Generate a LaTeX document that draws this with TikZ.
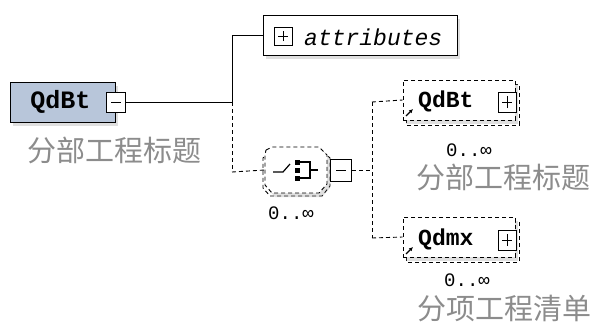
\documentclass[tikz,border=0pt]{standalone}
\usepackage{fontspec}
\newfontfamily\cjk{Noto Sans CJK SC}
\newfontfamily\mono{Liberation Mono}
\usetikzlibrary{shadows,shapes.misc,arrows.meta}
\definecolor{rootfill}{HTML}{B8C6DA}
\definecolor{cjkgray}{HTML}{8C8C8C}
\tikzset{
  elbox/.style={draw, line width=1pt, inner sep=0pt},
  pmbox/.style={draw, fill=white, line width=0.9pt, minimum width=19pt, minimum height=20pt, inner sep=0pt},
  dline/.style={line width=0.9pt, dash pattern=on 4pt off 3pt},
  sline/.style={line width=1pt},
  cjklabel/.style={font=\cjk\fontsize{29}{31}\selectfont, text=cjkgray, inner sep=0pt},
  card/.style={font=\mono\fontsize{19}{20}\selectfont, inner sep=0pt},
  shad/.style={drop shadow={shadow xshift=3pt, shadow yshift=-4pt, opacity=0.25, fill=gray}}
}
\begin{document}
\begin{tikzpicture}[x=1pt,y=-1pt]
\useasboundingbox (0,0) rectangle (593,327);
% root element
\node[elbox, fill=rootfill, minimum width=105pt, minimum height=40pt, shad,
      font=\mono\bfseries\fontsize{25}{26}\selectfont] (root) at (62.5,102) {\hspace*{-4pt}QdBt};
\node[pmbox] (rootm) at (116,102) {};
\draw[line width=0.9pt] ([xshift=-5pt]rootm.center) -- ([xshift=5pt]rootm.center);
\node[cjklabel] (rootl) at (114,150) {分部工程标题};
% attributes
\node[elbox, fill=white, minimum width=194pt, minimum height=40pt, shad] (attr) at (360,35) {};
\node[pmbox, minimum width=18pt, minimum height=18pt] (attrp) at (283,36) {};
\draw[line width=0.9pt] ([xshift=-5pt]attrp.center) -- ([xshift=5pt]attrp.center)
      ([yshift=-5pt]attrp.center) -- ([yshift=5pt]attrp.center);
\node[font=\mono\itshape\fontsize{23}{24}\selectfont, anchor=west, inner sep=0pt] (attrt) at (304,37) {attributes};
% junction
\coordinate (j) at (232,102);
\coordinate (js) at (232,172);
\draw[sline] (rootm.east) -- (j) |- (attr.west);
\draw[dline] (j) -- (js);
% sequence compositor
\path[dline, draw, fill=white] (268,152) -- (274,150) -- (321,150) -- (330,158) -- (330,186) -- (322,196) -- (270,196) -- (263,188) -- (263,158) -- cycle;
\draw[dline, fill=white, shad] (266,150) -- (272,147) -- (319,147) -- (327,155) -- (327,184) -- (319,193) -- (272,193) -- (265,185) -- (265,155) -- cycle;
\node[minimum width=62pt, minimum height=46pt, inner sep=0pt] (seq) at (296,170) {};
\draw[line width=1.2pt] (273,172) -- (283,172) -- (290,164);
\foreach \yy in {162,170,178} \fill (295,\yy-2.5) rectangle (300,\yy+2.5);
\draw[line width=1.2pt] (300,162) -- (310,162) -- (310,178) -- (300,178) (310,170) -- (318,170);
\node[pmbox, minimum width=21pt, minimum height=22pt] (seqm) at (341,170) {};
\draw[line width=0.9pt] ([xshift=-5pt]seqm.center) -- ([xshift=5pt]seqm.center);
\draw[dline] (js) -- (seq.west);
\node[card] (seqc) at (291,213) {0..∞};
% vertical bus
\coordinate (b) at (372,170);
\coordinate (b1) at (372,102);
\coordinate (b2) at (372,238);
\draw[dline] (seqm.east) -- (b);
\draw[dline] (b1) -- (b2);
% child 1
\draw[dline, fill=white] (406,84) rectangle (519,125);
\node[dline, draw, fill=white, minimum width=112pt, minimum height=40pt, inner sep=0pt, shad] (c1) at (459,100) {};
\node[font=\mono\bfseries\fontsize{23}{24}\selectfont, inner sep=0pt, anchor=west] (c1t) at (418,101) {QdBt};
\node[pmbox, minimum width=18pt, minimum height=20pt] (c1p) at (507,102) {};
\draw[line width=0.9pt] ([xshift=-5pt]c1p.center) -- ([xshift=5pt]c1p.center)
      ([yshift=-6pt]c1p.center) -- ([yshift=6pt]c1p.center);
\draw[line width=1.3pt, -{Latex[length=4pt,width=4pt]}] (406,116) -- (413,109);
\draw[dline] (b1) -- (c1.west);
\node[card] (c1c) at (469,150) {0..∞};
\node[cjklabel] (c1l) at (503,177) {分部工程标题};
% child 2
\draw[dline, fill=white] (406,222) rectangle (519,262);
\node[dline, draw, fill=white, minimum width=112pt, minimum height=40pt, inner sep=0pt, shad] (c2) at (459,237) {};
\node[font=\mono\bfseries\fontsize{23}{24}\selectfont, inner sep=0pt, anchor=west] (c2t) at (418,239) {Qdmx};
\node[pmbox, minimum width=18pt, minimum height=20pt] (c2p) at (507,240) {};
\draw[line width=0.9pt] ([xshift=-5pt]c2p.center) -- ([xshift=5pt]c2p.center)
      ([yshift=-6pt]c2p.center) -- ([yshift=6pt]c2p.center);
\draw[line width=1.3pt, -{Latex[length=4pt,width=4pt]}] (406,254) -- (413,247);
\draw[dline] (b2) -- (c2.west);
\node[card] (c2c) at (467,280) {0..∞};
\node[cjklabel] (c2l) at (504,309) {分项工程清单};
\end{tikzpicture}
\end{document}
